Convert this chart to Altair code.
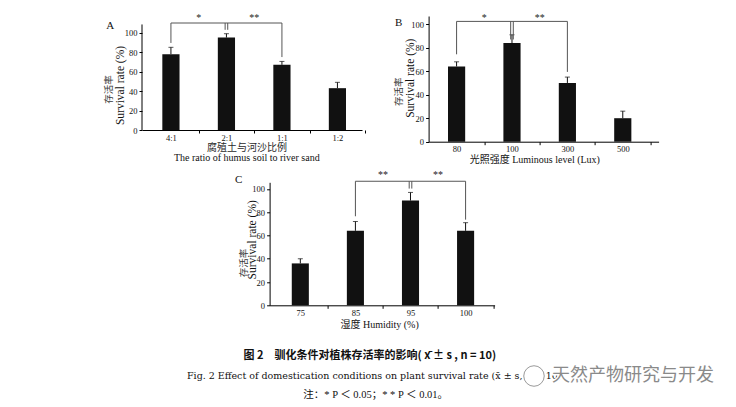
import altair as alt
import pandas as pd

SERIF = "Liberation Serif, Noto Sans CJK SC"
CJK = "Noto Sans CJK SC"

# ---------------- data ----------------
y_ticks = [0, 20, 40, 60, 80, 100]

# Panel A: ratio of humus soil to river sand
a_cats = ["4:1", "2:1", "1:1", "1:2"]
a_means = [78, 95, 67, 43]
a_sds = [7, 4, 3.5, 6]
a_br_cats = ["4:1", "2:1", "1:1"]
a_br_level = 110
a_br_ends = [89.5, 103, 75]
a_stars = ["*", "**"]
a_star_level = 112.3

# Panel B: luminous level
b_cats = ["80", "100", "300", "500"]
b_means = [64, 84, 50, 20]
b_sds = [4, 7, 5, 6]
b_br_cats = ["80", "100", "300"]
b_br_level = 102.4
b_br_ends = [74.4, 87, 59.4]
b_stars = ["*", "**"]
b_star_level = 102.9

# Panel C: humidity
c_cats = ["75", "85", "95", "100"]
c_means = [36, 64, 90, 64]
c_sds = [4, 8, 7, 7]
c_br_cats = ["85", "95", "100"]
c_br_level = 106.6
c_br_ends = [76.5, 100.3, 73.6]
c_stars = ["**", "**"]
c_star_level = 109.5

a_xtitle_cn = "腐殖土与河沙比例"
a_xtitle_en = "The ratio of humus soil to river sand"
b_xtitle = "光照强度 Luminous level (Lux)"
c_xtitle = "湿度 Humidity (%)"
ytitle_cn = "存活率"
ytitle_en = "Survival rate (%)"

cap_line1 = "图 2　驯化条件对植株存活率的影响( x̄ ± s , n = 10)"
cap_line2 = "Fig. 2    Effect of domestication conditions on plant survival rate (x̄ ± s, n = 10)"
cap_line3 = "注：* P ＜ 0.05；* * P ＜ 0.01。"
watermark = "天然产物研究与开发"


def note(text, x, y, size, color="#111111", font=SERIF, angle=0, align="center",
         weight="normal"):
    return alt.Chart(pd.DataFrame({"t": [text]})).mark_text(
        align=align, baseline="middle", fontSize=size, font=font, color=color,
        angle=angle, fontWeight=weight).encode(
        x=alt.value(x), y=alt.value(y), text="t:N")


def panel(cats, means, sds, br_cats, br_level, br_ends, stars, star_level,
          letter, xtitle, W, H, ymax, po, align, step, axis_top,
          letter_pos, xt_pos, yt_pos, cn_pos, x_range=None, y_offset=0, extra=()):
    if x_range is None:
        xs = alt.Scale(domain=cats, paddingInner=0.69, paddingOuter=po, align=align)
    else:
        xs = alt.Scale(domain=cats, paddingInner=0.69, paddingOuter=po, align=align,
                       range=x_range)
    xaxis = alt.Axis(title=xtitle, labelAngle=0, tickOffset=step / 2, labelOffset=-step / 2,
                     titleX=xt_pos[0], titleY=xt_pos[1], titleBaseline="middle",
                     titleAlign="center", titleFontSize=10,
                     labelFontSize=8.5, tickSize=3, labelPadding=0)
    ys = alt.Scale(domain=[0, ymax], nice=False, zero=True)
    yaxis = alt.Axis(values=y_ticks, title=ytitle_en, domain=(axis_top is None),
                     titleX=yt_pos[0], titleY=yt_pos[1], titleBaseline="alphabetic",
                     titleAngle=270, titleAlign="center",
                     titleFontSize=11.5, labelFontSize=8.5, tickSize=3, labelPadding=2,
                     offset=y_offset)

    def X(f="cat"):
        return alt.X(f"{f}:N", scale=xs, axis=xaxis)

    def Y(f="v"):
        return alt.Y(f"{f}:Q", scale=ys, axis=yaxis)

    df = pd.DataFrame({"cat": cats, "v": means,
                       "v2": [m + s for m, s in zip(means, sds)]})
    bars = alt.Chart(df).mark_bar(color="#111111").encode(x=X(), y=Y())
    err = alt.Chart(df).mark_rule(color="#111111", strokeWidth=1).encode(
        x=X(), y=Y(), y2=alt.Y2("v2:Q"))
    cap = alt.Chart(df).mark_tick(color="#111111", size=5, thickness=1,
                                  orient="horizontal").encode(x=X(), y=Y("v2"))

    bc = "#555555"
    top_df = pd.DataFrame({"cat": [br_cats[0], br_cats[2]], "v": [br_level, br_level]})
    top = alt.Chart(top_df).mark_line(color=bc, strokeWidth=1).encode(x=X(), y=Y())
    legs_df = pd.DataFrame({"cat": [br_cats[0], br_cats[2]], "v": [br_level] * 2,
                            "v2": [br_ends[0], br_ends[2]]})
    legs = alt.Chart(legs_df).mark_rule(color=bc, strokeWidth=1).encode(
        x=X(), y=Y(), y2=alt.Y2("v2:Q"))
    mid_df = pd.DataFrame({"cat": [br_cats[1]], "v": [br_level], "v2": [br_ends[1]]})
    mid1 = alt.Chart(mid_df).mark_rule(color=bc, strokeWidth=1, xOffset=-1.3).encode(
        x=X(), y=Y(), y2=alt.Y2("v2:Q"))
    mid2 = alt.Chart(mid_df).mark_rule(color=bc, strokeWidth=1, xOffset=1.3).encode(
        x=X(), y=Y(), y2=alt.Y2("v2:Q"))
    star_df = pd.DataFrame({"cat": [br_cats[0], br_cats[1]], "v": [star_level] * 2,
                            "t": stars})
    star = alt.Chart(star_df).mark_text(dx=step / 2, align="center", baseline="alphabetic",
                                        fontSize=10, font=SERIF, color="#222222").encode(
        x=X(), y=Y(), text="t:N")
    let = note(letter, letter_pos[0], letter_pos[1], 11)
    cn = note(ytitle_cn, cn_pos[0], cn_pos[1], 9.5, color="#3a3a3a", font=CJK, angle=270)
    layers = [bars, err, cap, top, legs, mid1, mid2, star, let, cn] + list(extra)
    if axis_top is not None:
        ax_df = pd.DataFrame({"v": [0], "v2": [axis_top]})
        axl = alt.Chart(ax_df).mark_rule(color="black", strokeWidth=1).encode(
            x=alt.value(0), y=Y(), y2=alt.Y2("v2:Q"))
        layers.append(axl)
    return alt.layer(*layers).properties(width=W, height=H)


A = panel(a_cats, a_means, a_sds, a_br_cats, a_br_level, a_br_ends, a_stars, a_star_level,
          "A", a_xtitle_en, 220, 114, 117.2, 0.327, 0.56, 55.5, 108.5,
          (-31.7, 10), (104.3, 27), (-18.7, 69), (-32.7, 73.4),
          extra=[note(a_xtitle_cn, 105, 131.5, 10, color="#2a2a2a")])
B = panel(b_cats, b_means, b_sds, b_br_cats, b_br_level, b_br_ends, b_stars, b_star_level,
          "B", b_xtitle, 230, 125.7, 107, 0.421, 0.416, 55.4, None,
          (-30, 6.7), (105.7, 17.7), (-15.6, 61.7), (-30, 75.7))
# C sits in B's grid column; its scale range is shifted left to its own place
C_SHIFT = 159
C = panel(c_cats, c_means, c_sds, c_br_cats, c_br_level, c_br_ends, c_stars, c_star_level,
          "C", c_xtitle, 66, 123, 105.7, 0.387, 0.52, 55.1, None,
          (-31 - C_SHIFT, -2.6), (109.5 - C_SHIFT, 19.4), (-13.8, 57),
          (-184.3, 80.7),
          x_range=[-C_SHIFT, 225 - C_SHIFT], y_offset=C_SHIFT)

spacer = alt.Chart(pd.DataFrame({"s": [0]})).mark_point(opacity=0).encode(
    x=alt.value(0), y=alt.value(0)).properties(width=10, height=10)

l1 = note(cap_line1, 101.6, 10.7, 11, font=CJK, align="left", weight="bold")
l2 = note(cap_line2, 45, 30.7, 9.5, font="DejaVu Serif, Noto Sans CJK SC", align="left")
l3 = note(cap_line3, 161.3, 49.1, 10.5, align="left")
icon = alt.Chart(pd.DataFrame({"t": [0]})).mark_point(
    shape="circle", size=420, filled=True, color="white", stroke="#9a9a9a",
    strokeWidth=1, opacity=1).encode(x=alt.value(392), y=alt.value(30.4))
wm_halo = alt.Chart(pd.DataFrame({"t": [watermark]})).mark_text(
    align="left", baseline="middle", fontSize=18, font=CJK, color="white",
    stroke="white", strokeWidth=3).encode(
    x=alt.value(410), y=alt.value(30.4), text="t:N")
wm = note(watermark, 410, 30.4, 18, color="#8a8a8a", font=CJK, align="left")
caption = alt.layer(l1, l2, l3, icon, wm_halo, wm).properties(width=100, height=52)

chart = alt.concat(
    A, B, spacer, C, caption, columns=2,
    spacing={"row": 40.3, "column": 66.6},
    bounds="flush",
    padding={"left": 96, "top": 4, "right": 0, "bottom": 0},
    background="white",
).configure_view(stroke=None).configure_axis(
    labelFont="Liberation Serif", titleFont=SERIF, labelColor="#111111",
    titleColor="#111111", titleFontWeight="normal", domainColor="black",
    tickColor="black", grid=False, domainWidth=1, tickWidth=1)

chart.save("out.html", embed_options={"renderer": "svg", "actions": False})
